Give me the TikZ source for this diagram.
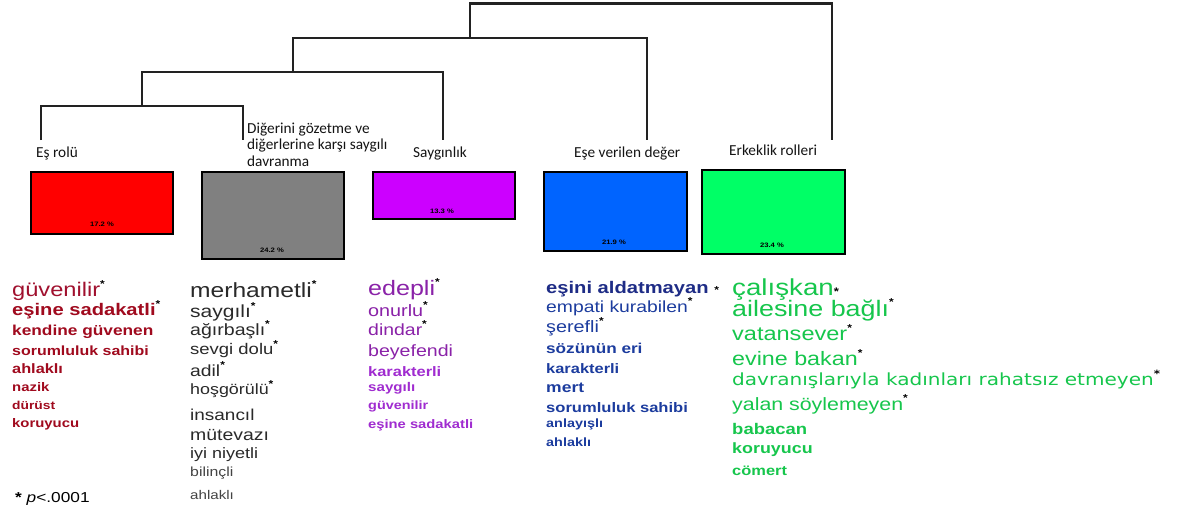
\documentclass[tikz,border=0pt]{standalone}
\usepackage{fontspec}
\setmainfont{Liberation Sans}
\newfontfamily\wf[FakeStretch=1.2]{Liberation Sans}
\newfontfamily\df[FakeStretch=1.2]{DejaVu Sans}
\newfontfamily\lf{Carlito}
\newcommand\fs[1]{\fontsize{#1}{#1}\selectfont}
\newcommand\myast{\raisebox{0.45em}{\color{black}\fontsize{10}{10}\selectfont\bfseries *}}
\definecolor{dend}{HTML}{222222}
\definecolor{cred}{HTML}{FF0000}
\definecolor{cgray}{HTML}{808080}
\definecolor{cpurp}{HTML}{CC00FF}
\definecolor{cblue}{HTML}{0064FF}
\definecolor{cgreen}{HTML}{00FF66}
\definecolor{tred}{HTML}{A0102E}
\definecolor{tredb}{HTML}{A00A1E}
\definecolor{tgray}{HTML}{2A2A2A}
\definecolor{tgrayl}{HTML}{444444}
\definecolor{tpurp}{HTML}{8A22A8}
\definecolor{tpurpl}{HTML}{A02CD0}
\definecolor{tblue}{HTML}{1E2C86}
\definecolor{tbluel}{HTML}{1C3C9E}
\definecolor{tgreen}{HTML}{16C64C}
\definecolor{lab}{HTML}{141414}
\tikzset{
  dendro/.style={draw=dend, line width=2.4pt, line join=miter},
  catbox/.style={draw=black, line width=1.5pt, inner sep=0pt, outer sep=0pt},
  pct/.style={inner sep=0pt, font=\wf\bfseries\fs{6.4}, text=black},
  lbl/.style={anchor=base west, inner sep=0pt, font=\lf\fs{15.3}, text=lab},
  w/.style={anchor=base west, inner sep=0pt, font=\wf},
}
\begin{document}
\begin{tikzpicture}[x=1pt, y=-1pt]
\useasboundingbox[fill=white] (0,0) rectangle (1177,511);

% dendrogram
\coordinate (L1) at (41,140);
\coordinate (L2) at (243,140);
\coordinate (L3) at (443,140);
\coordinate (L4) at (647,140);
\coordinate (L5) at (832,140);
\coordinate (J1) at (142,106);
\coordinate (J2) at (293,72);
\coordinate (J3) at (470,38);
\coordinate (J4) at (832,3.5);
\draw[dendro] (L1) |- (J1) -| (L2);
\draw[dendro] (J1) |- (J2) -| (L3);
\draw[dendro] (J2) |- (J3) -| (L4);
\draw[dendro] (J3) |- (J4) -- (L5);

% labels
\node[lbl] (t1) at (36,157) {Eş rolü};
\node[lbl] (t2a) at (247,133) {Diğerini gözetme ve};
\node[lbl] (t2b) at (247,149.5) {diğerlerine karşı saygılı};
\node[lbl] (t2c) at (247,166) {davranma};
\node[lbl] (t3) at (413,157) {Saygınlık};
\node[lbl] (t4) at (574,157) {Eşe verilen değer};
\node[lbl] (t5) at (729,155) {Erkeklik rolleri};

% boxes
\node[catbox, fill=cred, minimum width=142pt, minimum height=62pt] (b1) at (102,203) {};
\node[catbox, fill=cgray, minimum width=142pt, minimum height=87pt] (b2) at (273,215.5) {};
\node[catbox, fill=cpurp, minimum width=142pt, minimum height=47pt] (b3) at (444,195.5) {};
\node[catbox, fill=cblue, minimum width=143pt, minimum height=79pt] (b4) at (615.5,211.5) {};
\node[catbox, fill=cgreen, minimum width=143pt, minimum height=84pt] (b5) at (773.5,212) {};
\node[pct] (p1) at (102,224) {17.2 \%};
\node[pct] (p2) at (272,250) {24.2 \%};
\node[pct] (p3) at (442,211) {13.3 \%};
\node[pct] (p4) at (614,242) {21.9 \%};
\node[pct] (p5) at (772,245) {23.4 \%};

% red column
\node[w, text=tred] (r1) at (12,296) {\fs{19.7}güvenilir\myast};
\node[w, text=tredb] (r2) at (12,315) {\bfseries\fs{16.8}eşine sadakatli\myast};
\node[w, text=tredb] (r3) at (12,335) {\bfseries\fs{14.4}kendine güvenen};
\node[w, text=tredb] (r4) at (12,355) {\bfseries\fs{13.3}sorumluluk sahibi};
\node[w, text=tredb] (r5) at (12,373) {\bfseries\fs{13.6}ahlaklı};
\node[w, text=tredb] (r6) at (12,391) {\bfseries\fs{12.4}nazik};
\node[w, text=tredb] (r7) at (12,409) {\bfseries\fs{11.5}dürüst};
\node[w, text=tredb] (r8) at (12,427) {\bfseries\fs{12.4}koruyucu};
\node[w, text=black] (note) at (15,502) {\fs{14.4}\textbf{*} \textit{p}<.0001};

% gray column
\node[w, text=tgray] (g1) at (190,297) {\fs{20.5}merhametli\myast};
\node[w, text=tgray] (g2) at (190,317) {\fs{17.5}saygılı\myast};
\node[w, text=tgray] (g3) at (190,335) {\fs{16.3}ağırbaşlı\myast};
\node[w, text=tgray] (g4) at (190,354) {\fs{15.4}sevgi dolu\myast};
\node[w, text=tgray] (g5) at (190,376) {\fs{16.1}adil\myast};
\node[w, text=tgray] (g6) at (190,394) {\fs{14.9}hoşgörülü\myast};
\node[w, text=tgray] (g7) at (190,420) {\fs{15.8}insancıl};
\node[w, text=tgray] (g8) at (190,440) {\fs{16.2}mütevazı};
\node[w, text=tgray] (g9) at (190,458) {\fs{15}iyi niyetli};
\node[w, text=tgrayl] (g10) at (190,476) {\fs{13.2}bilinçli};
\node[w, text=tgrayl] (g11) at (190,499) {\fs{12.6}ahlaklı};

% purple column
\node[w, text=tpurp] (v1) at (368,295) {\fs{20.9}edepli\myast};
\node[w, text=tpurp] (v2) at (368,316) {\fs{16.5}onurlu\myast};
\node[w, text=tpurp] (v3) at (368,335) {\fs{16.2}dindar\myast};
\node[w, text=tpurp] (v4) at (368,356) {\fs{16.3}beyefendi};
\node[w, text=tpurpl] (v5) at (368,376) {\bfseries\fs{13.7}karakterli};
\node[w, text=tpurpl] (v6) at (368,391) {\bfseries\fs{12.6}saygılı};
\node[w, text=tpurpl] (v7) at (368,409) {\bfseries\fs{12}güvenilir};
\node[w, text=tpurpl] (v8) at (368,428) {\bfseries\fs{12.3}eşine sadakatli};

% blue column
\node[w, text=tblue] (u1) at (546,293) {\bfseries\fs{16.8}eşini aldatmayan {\color{black}\fs{10}*}};
\node[w, text=tbluel] (u2) at (546,312) {\fs{16.1}empati kurabilen\myast};
\node[w, text=tbluel] (u3) at (546,332) {\fs{16.5}şerefli\myast};
\node[w, text=tbluel] (u4) at (546,353) {\bfseries\fs{14.3}sözünün eri};
\node[w, text=tbluel] (u5) at (546,373) {\bfseries\fs{13.7}karakterli};
\node[w, text=tbluel] (u6) at (546,392) {\bfseries\fs{14.6}mert};
\node[w, text=tbluel] (u7) at (546,412) {\bfseries\fs{13.8}sorumluluk sahibi};
\node[w, text=tbluel] (u8) at (546,427) {\bfseries\fs{12}anlayışlı};
\node[w, text=tbluel] (u9) at (546,446) {\bfseries\fs{12}ahlaklı};

% green column
\node[w, text=tgreen] (e1) at (732,295) {\fs{23.1}çalışkan{\color{black}\fs{11}\bfseries*}};
\node[w, text=tgreen] (e2) at (732,316) {\fs{22.4}ailesine bağlı\myast};
\node[w, text=tgreen] (e3) at (732,340) {\fs{19.6}vatansever\myast};
\node[w, text=tgreen] (e4) at (732,365) {\fs{19.4}evine bakan\myast};
\node[w, text=tgreen, font=\df] (e5) at (732,385) {\fs{16.7}davranışlarıyla kadınları rahatsız etmeyen\myast};
\node[w, text=tgreen] (e6) at (732,410) {\fs{17.8}yalan söylemeyen\myast};
\node[w, text=tgreen] (e7) at (732,434) {\bfseries\fs{15.4}babacan};
\node[w, text=tgreen] (e8) at (732,453) {\bfseries\fs{14.9}koruyucu};
\node[w, text=tgreen] (e9) at (732,475) {\bfseries\fs{13.7}cömert};
\end{tikzpicture}
\end{document}
